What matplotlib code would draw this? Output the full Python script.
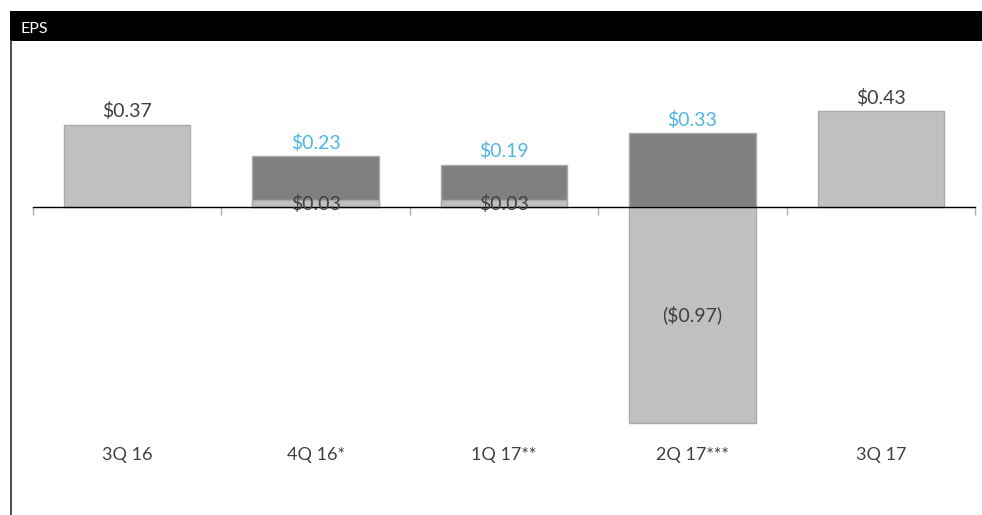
import matplotlib
matplotlib.use("Agg")
import matplotlib.pyplot as plt
from matplotlib.patches import Rectangle
from matplotlib.lines import Line2D

plt.rcParams['font.family'] = ['Lato', 'DejaVu Sans']

# Quarterly EPS: reported (light) and adjusted (dark) values
quarters = ["3Q 16", "4Q 16*", "1Q 17**", "2Q 17***", "3Q 17"]
reported_eps = [0.37, 0.03, 0.03, -0.97, 0.43]
adjusted_eps = [None, 0.23, 0.19, 0.33, None]

LIGHT = "#c0c0c0"
LIGHT_EDGE = "#a9a9a9"
DARK = "#808080"
TEXT = "#404040"
BLUE = "#4fb5e3"

W, H = 982, 515
fig = plt.figure(figsize=(W / 100, H / 100), dpi=100)

# Header band with title
fig.patches.append(Rectangle((10 / W, 1 - 41 / H), 972 / W, 30 / H,
                             transform=fig.transFigure, facecolor="black",
                             edgecolor="none", zorder=0))
fig.text(20 / W, 1 - 29 / H, "EPS", color="white", fontsize=11.5,
         va="center", ha="left")
# Left frame line
fig.lines.append(Line2D([11 / W, 11 / W], [0, 1 - 41 / H],
                        transform=fig.transFigure, color="#404040", lw=1.3))

ax = fig.add_axes([33 / W, 0, 942 / W, 473 / H])
ax.set_xlim(-0.5, len(quarters) - 0.5)
ax.set_ylim(-1.381, 0.74)
ax.set_facecolor("none")

x = list(range(len(quarters)))
bw = 0.67

# Adjusted bars behind, reported bars on top
for i, v in enumerate(adjusted_eps):
    if v is not None:
        ax.bar(i, v, width=bw, color=DARK, edgecolor=LIGHT_EDGE, lw=1, zorder=2)
ax.bar(x, reported_eps, width=bw, color=LIGHT, edgecolor=LIGHT_EDGE, lw=1, zorder=3)

# Axis line and tick marks between categories
for s in ["top", "right", "left"]:
    ax.spines[s].set_visible(False)
ax.spines["bottom"].set_position(("data", 0))
ax.spines["bottom"].set_color("black")
ax.spines["bottom"].set_linewidth(1)
ax.spines["bottom"].set_zorder(4)
ax.set_xticks([i - 0.5 for i in range(len(quarters) + 1)])
ax.set_xticklabels([])
ax.tick_params(axis="x", direction="out", length=6, color="#b0b0b0", width=1)
ax.set_yticks([])


def money(v):
    return f"(${abs(v):.2f})" if v < 0 else f"${v:.2f}"


for i, (r, a) in enumerate(zip(reported_eps, adjusted_eps)):
    if a is None:
        ax.annotate(money(r), (i, r), xytext=(0, 3), textcoords="offset points",
                    ha="center", va="bottom", fontsize=14, color=TEXT, zorder=5)
    else:
        ax.annotate(money(a), (i, a), xytext=(0, 3), textcoords="offset points",
                    ha="center", va="bottom", fontsize=14, color=BLUE, zorder=5)
        ax.text(i, r / 2, money(r), ha="center", va="center", fontsize=14,
                color=TEXT, zorder=5)
    ax.text(i, -1.112, quarters[i], ha="center", va="center", fontsize=13,
            color=TEXT)

fig.savefig("out.png", dpi=100)
